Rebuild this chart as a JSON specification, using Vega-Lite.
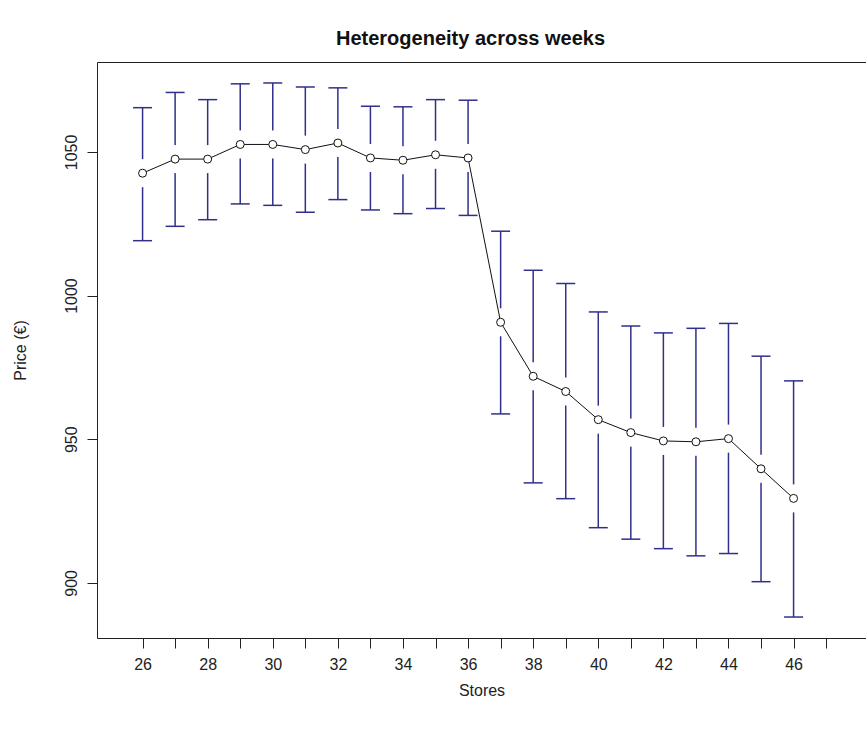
{
  "$schema": "https://vega.github.io/schema/vega-lite/v6.json",
  "width": 769,
  "height": 576,
  "autosize": {"type": "none"},
  "padding": {"left": 97, "top": 62, "right": 0, "bottom": 93},
  "background": "white",
  "title": {
    "text": "Heterogeneity across weeks",
    "font": "Liberation Sans",
    "fontSize": 20,
    "fontWeight": "bold",
    "color": "#111",
    "anchor": "middle",
    "baseline": "alphabetic",
    "offset": 17,
    "dy": 20,
    "dx": -11
  },
  "config": {
    "view": {"stroke": null},
    "axis": {
      "grid": false,
      "domainColor": "#222",
      "tickColor": "#222",
      "labelColor": "#222",
      "titleColor": "#222",
      "labelFont": "Liberation Sans",
      "titleFont": "Liberation Sans",
      "labelFontSize": 16,
      "titleFontSize": 16,
      "titleFontWeight": "normal"
    }
  },
  "data": {
    "values": [
      {"week": 26, "mean": 1042.6, "upper": 1065.4, "lower": 1019.1},
      {"week": 27, "mean": 1047.5, "upper": 1070.7, "lower": 1024.1},
      {"week": 28, "mean": 1047.5, "upper": 1068.2, "lower": 1026.4},
      {"week": 29, "mean": 1052.6, "upper": 1073.7, "lower": 1031.9},
      {"week": 30, "mean": 1052.6, "upper": 1074.0, "lower": 1031.4},
      {"week": 31, "mean": 1050.8, "upper": 1072.6, "lower": 1029.0},
      {"week": 32, "mean": 1053.1, "upper": 1072.3, "lower": 1033.4},
      {"week": 33, "mean": 1047.9, "upper": 1065.9, "lower": 1029.8},
      {"week": 34, "mean": 1047.1, "upper": 1065.7, "lower": 1028.5},
      {"week": 35, "mean": 1049.0, "upper": 1068.2, "lower": 1030.3},
      {"week": 36, "mean": 1047.9, "upper": 1068.0, "lower": 1027.9},
      {"week": 37, "mean": 990.7, "upper": 1022.4, "lower": 958.8},
      {"week": 38, "mean": 971.9, "upper": 1008.8, "lower": 934.8},
      {"week": 39, "mean": 966.6, "upper": 1004.2, "lower": 929.3},
      {"week": 40, "mean": 956.8, "upper": 994.3, "lower": 919.2},
      {"week": 41, "mean": 952.3, "upper": 989.4, "lower": 915.2},
      {"week": 42, "mean": 949.4, "upper": 987.0, "lower": 911.9},
      {"week": 43, "mean": 949.1, "upper": 988.6, "lower": 909.4},
      {"week": 44, "mean": 950.2, "upper": 990.3, "lower": 910.2},
      {"week": 45, "mean": 939.7, "upper": 978.9, "lower": 900.4},
      {"week": 46, "mean": 929.4, "upper": 970.3, "lower": 888.1}
    ]
  },
  "layer": [
    {
      "mark": {"type": "rule", "color": "#30308c", "strokeWidth": 1.5},
      "encoding": {
        "x": {
          "field": "week", "type": "quantitative",
          "scale": {"domain": [24.6, 48.225], "nice": false, "zero": false},
          "axis": {
            "orient": "bottom",
            "values": [26,27,28,29,30,31,32,33,34,35,36,37,38,39,40,41,42,43,44,45,46,47],
            "labelExpr": "datum.value % 2 == 0 ? datum.label : ''",
            "tickSize": 10,
            "labelPadding": 8,
            "title": "Stores",
            "titlePadding": 10,
            "domainWidth": 1
          }
        },
        "y": {
          "field": "lower", "type": "quantitative",
          "scale": {"domain": [880.8, 1081.3], "nice": false, "zero": false},
          "axis": {
            "orient": "left",
            "values": [900, 950, 1000, 1050],
            "format": "d",
            "labelAngle": -90,
            "labelAlign": "center",
            "labelBaseline": "bottom",
            "tickSize": 10,
            "labelPadding": 8,
            "title": "Price (€)",
            "titlePadding": 35,
            "domainWidth": 1
          }
        },
        "y2": {"field": "upper"}
      }
    },
    {
      "mark": {"type": "tick", "orient": "vertical", "size": 28, "thickness": 4, "color": "white", "opacity": 1},
      "encoding": {
        "x": {
          "field": "week", "type": "quantitative",
          "axis": {"orient": "top", "labels": false, "ticks": false, "title": null, "domain": true, "domainWidth": 1}
        },
        "y": {"field": "mean", "type": "quantitative"}
      }
    },
    {
      "mark": {"type": "tick", "orient": "horizontal", "size": 19, "thickness": 1.5, "color": "#30308c", "opacity": 1},
      "encoding": {
        "x": {"field": "week", "type": "quantitative", "axis": null},
        "y": {"field": "upper", "type": "quantitative"}
      }
    },
    {
      "mark": {"type": "tick", "orient": "horizontal", "size": 19, "thickness": 1.5, "color": "#30308c", "opacity": 1},
      "encoding": {
        "x": {"field": "week", "type": "quantitative", "axis": null},
        "y": {"field": "lower", "type": "quantitative"}
      }
    },
    {
      "mark": {"type": "line", "color": "#111", "strokeWidth": 1},
      "encoding": {
        "x": {"field": "week", "type": "quantitative", "axis": null},
        "y": {"field": "mean", "type": "quantitative"}
      }
    },
    {
      "mark": {"type": "point", "shape": "circle", "size": 64, "filled": true, "fill": "white", "stroke": "#111", "strokeWidth": 1, "opacity": 1},
      "encoding": {
        "x": {"field": "week", "type": "quantitative", "axis": null},
        "y": {"field": "mean", "type": "quantitative"}
      }
    }
  ]
}
